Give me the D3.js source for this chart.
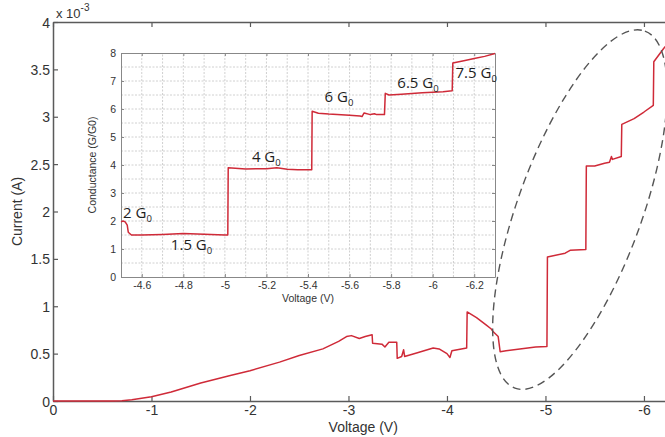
<!DOCTYPE html>
<html>
<head>
<meta charset="utf-8">
<script src="https://cdn.jsdelivr.net/npm/d3@7"></script>
<style>
  body { margin: 0; background: #fff; }
  svg { display: block; }
</style>
</head>
<body>
<svg id="chart" width="665" height="437"></svg>
<script>
// I-V sweep of the junction (current in units of 1e-3 A)
const sweepVoltage = [0, -0.3, -0.6, -0.7, -0.8, -1.0, -1.2, -1.5, -1.8, -2.0, -2.3, -2.5, -2.74, -2.9, -2.98, -3.03, -3.11, -3.17, -3.24, -3.245, -3.34, -3.37, -3.41, -3.49, -3.495, -3.54, -3.56, -3.57, -3.7, -3.86, -3.92, -4.0, -4.03, -4.05, -4.2, -4.205, -4.3, -4.4, -4.45, -4.47, -4.52, -4.54, -4.6, -4.74, -4.9, -5.015, -5.02, -5.2, -5.25, -5.41, -5.415, -5.5, -5.6, -5.65, -5.67, -5.68, -5.77, -5.775, -5.9, -6.0, -6.095, -6.1, -6.2, -6.3];
const sweepCurrent = [0, 0, 0, 0.002, 0.012, 0.045, 0.095, 0.19, 0.27, 0.32, 0.41, 0.48, 0.55, 0.63, 0.68, 0.69, 0.66, 0.68, 0.70, 0.61, 0.60, 0.57, 0.62, 0.62, 0.45, 0.47, 0.54, 0.47, 0.51, 0.56, 0.55, 0.50, 0.46, 0.53, 0.56, 0.94, 0.88, 0.80, 0.76, 0.73, 0.68, 0.52, 0.53, 0.55, 0.57, 0.575, 1.52, 1.56, 1.59, 1.60, 2.48, 2.48, 2.51, 2.52, 2.58, 2.55, 2.58, 2.92, 2.98, 3.05, 3.12, 3.58, 3.72, 3.85];

// Conductance steps in the high-bias window (units of G0)
const stepVoltage = [-4.50, -4.51, -4.52, -4.53, -4.535, -4.55, -4.6, -4.7, -4.8, -4.9, -5.0, -5.014, -5.016, -5.1, -5.2, -5.25, -5.3, -5.35, -5.418, -5.42, -5.45, -5.5, -5.6, -5.65, -5.66, -5.67, -5.7, -5.72, -5.73, -5.768, -5.772, -5.79, -5.85, -5.95, -6.05, -6.094, -6.097, -6.15, -6.2, -6.25, -6.3];
const stepConductance = [1.97, 2.0, 1.97, 1.85, 1.6, 1.5, 1.5, 1.52, 1.55, 1.53, 1.5, 1.5, 3.9, 3.86, 3.87, 3.9, 3.85, 3.83, 3.83, 5.92, 5.85, 5.82, 5.78, 5.75, 5.73, 5.86, 5.8, 5.83, 5.8, 5.8, 6.56, 6.5, 6.53, 6.58, 6.62, 6.65, 7.64, 7.72, 7.8, 7.88, 7.98];

// Axis ticks
const mainVoltTicks = [0, -1, -2, -3, -4, -5, -6];
const mainCurrentTicks = [0, 0.5, 1, 1.5, 2, 2.5, 3, 3.5, 4];
const insetVoltTicks = [-4.6, -4.8, -5, -5.2, -5.4, -5.6, -5.8, -6, -6.2];
const insetCondTicks = [0, 1, 2, 3, 4, 5, 6, 7, 8];

// Plateau annotations: [voltage, conductance, number]
const plateauLabels = [
  [-4.51, 2.1, "2"],
  [-4.74, 0.95, "1.5"],
  [-5.13, 4.1, "4"],
  [-5.48, 6.25, "6"],
  [-5.83, 6.75, "6.5"],
  [-6.11, 7.1, "7.5"]
];

// Highlighted region (centre in data units)
const highlightCentre = [-5.35, 2.02];

const RED = "#cf2a38";
const AXIS = "#5a5a5a";
const TEXT = "#333";
const FONT = "'Liberation Sans', Arial, sans-serif";

const svg = d3.select("#chart");

// ---------- main axes ----------
const x = d3.scaleLinear().domain([0, -6.3]).range([53, 673.5]);
const y = d3.scaleLinear().domain([0, 4]).range([401, 22]);

const styleAxis = g => {
  g.selectAll(".domain").attr("stroke", AXIS).attr("stroke-width", 1.5);
  g.selectAll(".tick line").attr("stroke", AXIS).attr("stroke-width", 1.2);
  g.selectAll(".tick text").attr("fill", TEXT).style("font-family", FONT).style("font-size", "14px");
};

svg.append("g")
  .attr("transform", `translate(0,${y(0)})`)
  .call(d3.axisBottom(x).tickValues(mainVoltTicks).tickSize(-5).tickSizeOuter(0).tickPadding(4).tickFormat(d => String(d)))
  .call(styleAxis);

svg.append("g")
  .attr("transform", `translate(0,${y(4)})`)
  .call(d3.axisTop(x).tickValues(mainVoltTicks).tickSize(-5).tickSizeOuter(0).tickFormat(""))
  .call(styleAxis);

svg.append("g")
  .attr("transform", `translate(${x(0)},0)`)
  .call(d3.axisLeft(y).tickValues(mainCurrentTicks).tickSize(-5).tickSizeOuter(0).tickPadding(3).tickFormat(d => String(d)))
  .call(styleAxis)
  .call(g => g.selectAll(".tick text").attr("dy", "0.36em"));

svg.append("g")
  .attr("transform", `translate(${x(-6.3)},0)`)
  .call(d3.axisRight(y).tickValues(mainCurrentTicks).tickSize(-5).tickSizeOuter(0).tickFormat(""))
  .call(styleAxis);

// exponent marker
const expo = svg.append("text")
  .attr("x", x(0) + 3).attr("y", y(4) - 4)
  .attr("fill", TEXT).style("font-family", FONT).style("font-size", "13px");
expo.append("tspan").text("x 10");
expo.append("tspan").attr("dy", -7).style("font-size", "10px").text("-3");

// axis titles
svg.append("text")
  .attr("x", (x(0) + x(-6.3)) / 2).attr("y", 432)
  .attr("text-anchor", "middle").attr("fill", TEXT)
  .style("font-family", FONT).style("font-size", "14px")
  .text("Voltage (V)");

svg.append("text")
  .attr("transform", `translate(22,${(y(0) + y(4)) / 2}) rotate(-90)`)
  .attr("text-anchor", "middle").attr("fill", TEXT)
  .style("font-family", FONT).style("font-size", "14px")
  .text("Current (A)");

// I-V trace
svg.append("path")
  .datum(d3.zip(sweepVoltage, sweepCurrent))
  .attr("fill", "none").attr("stroke", RED).attr("stroke-width", 1.5)
  .attr("stroke-linejoin", "round")
  .attr("d", d3.line().x(d => x(d[0])).y(d => y(d[1])));

// dashed ellipse around the step region
svg.append("ellipse")
  .attr("transform", `translate(${x(highlightCentre[0])},${y(highlightCentre[1])}) rotate(-70)`)
  .attr("rx", 190).attr("ry", 62)
  .attr("fill", "none").attr("stroke", "#555").attr("stroke-width", 1.4)
  .attr("stroke-dasharray", "8,5");

// ---------- inset ----------
const ix = d3.scaleLinear().domain([-4.5, -6.3]).range([121, 495]);
const iy = d3.scaleLinear().domain([0, 8]).range([277, 53]);

const inset = svg.append("g");

inset.append("rect")
  .attr("x", ix(-4.5)).attr("y", iy(8))
  .attr("width", ix(-6.3) - ix(-4.5)).attr("height", iy(0) - iy(8))
  .attr("fill", "#fff");

// dotted grid
inset.append("g").selectAll("line")
  .data(ix.ticks(18).filter(v => v < -4.55 && v > -6.25))
  .join("line")
  .attr("x1", d => ix(d)).attr("x2", d => ix(d))
  .attr("y1", iy(0)).attr("y2", iy(8))
  .attr("stroke", "#c4c4c4").attr("stroke-width", 0.8).attr("stroke-dasharray", "2,1.5");

inset.append("g").selectAll("line")
  .data(iy.ticks(16).filter(v => v > 0 && v < 8))
  .join("line")
  .attr("x1", ix(-4.5)).attr("x2", ix(-6.3))
  .attr("y1", d => iy(d)).attr("y2", d => iy(d))
  .attr("stroke", "#c4c4c4").attr("stroke-width", 0.8).attr("stroke-dasharray", "2,1.5");

const styleInset = g => {
  g.selectAll(".domain").attr("stroke", "#888").attr("stroke-width", 1);
  g.selectAll(".tick line").attr("stroke", "#888");
  g.selectAll(".tick text").attr("fill", TEXT).style("font-family", FONT).style("font-size", "10.5px");
};

inset.append("g")
  .attr("transform", `translate(0,${iy(0)})`)
  .call(d3.axisBottom(ix).tickValues(insetVoltTicks).tickSize(-3).tickSizeOuter(0).tickPadding(5).tickFormat(d => String(d)))
  .call(styleInset);

inset.append("g")
  .attr("transform", `translate(0,${iy(8)})`)
  .call(d3.axisTop(ix).tickValues(insetVoltTicks).tickSize(-3).tickSizeOuter(0).tickFormat(""))
  .call(styleInset);

inset.append("g")
  .attr("transform", `translate(${ix(-4.5)},0)`)
  .call(d3.axisLeft(iy).tickValues(insetCondTicks).tickSize(-3).tickSizeOuter(0).tickPadding(5).tickFormat(d => String(d)))
  .call(styleInset);

inset.append("g")
  .attr("transform", `translate(${ix(-6.3)},0)`)
  .call(d3.axisRight(iy).tickValues(insetCondTicks).tickSize(-3).tickSizeOuter(0).tickFormat(""))
  .call(styleInset);

inset.append("text")
  .attr("x", (ix(-4.5) + ix(-6.3)) / 2).attr("y", 302)
  .attr("text-anchor", "middle").attr("fill", TEXT)
  .style("font-family", FONT).style("font-size", "10.5px")
  .text("Voltage (V)");

inset.append("text")
  .attr("transform", `translate(96,${(iy(0) + iy(8)) / 2}) rotate(-90)`)
  .attr("text-anchor", "middle").attr("fill", TEXT)
  .style("font-family", FONT).style("font-size", "10.5px")
  .text("Conductance (G/G0)");

inset.append("path")
  .datum(d3.zip(stepVoltage, stepConductance))
  .attr("fill", "none").attr("stroke", RED).attr("stroke-width", 1.5)
  .attr("stroke-linejoin", "round")
  .attr("d", d3.line().x(d => ix(d[0])).y(d => iy(d[1])));

// plateau labels "n G0"
plateauLabels.forEach(([v, g, n]) => {
  const t = inset.append("text")
    .attr("x", ix(v)).attr("y", iy(g))
    .attr("fill", "#1e1e1e")
    .style("font-family", "'Open Sans', 'Noto Sans', sans-serif")
    .style("font-size", "15px")
    .style("font-weight", 500);
  t.append("tspan").text(n + " G");
  t.append("tspan").attr("dy", 4).style("font-size", "9.5px").text("0");
});
</script>
</body>
</html>
